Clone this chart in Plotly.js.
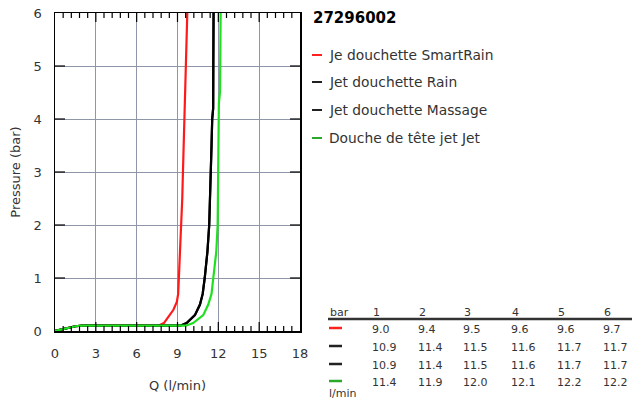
<!DOCTYPE html>
<html>
<head>
<meta charset="utf-8">
<script src="https://cdn.plot.ly/plotly-3.0.1.min.js"></script>
<style>html,body{margin:0;padding:0;background:#fff;}#chart{width:632px;height:403px;}</style>
</head>
<body>
<div id="chart"></div>
<script>
// ---- data ----
const chartTitle = "27296002";
const seriesNames = ["Je douchette SmartRain", "Jet douchette Rain", "Jet douchette Massage", "Douche de tête jet Jet"];
const seriesColors = ["#ff1a1a", "#000000", "#000000", "#1ee01e"];
const swatchColors = ["#ff2020", "#222222", "#222222", "#2aa82a"];

const redQ = [0, 0.5, 1, 1.5, 2, 4, 7.6, 8.0, 8.4, 8.7, 8.95, 9.05, 9.1, 9.2, 9.3, 9.35, 9.4, 9.45, 9.5, 9.55, 9.6, 9.65, 9.72];
const redP = [0, 0.03, 0.06, 0.09, 0.1, 0.1, 0.1, 0.15, 0.28, 0.4, 0.55, 0.7, 1.0, 1.5, 2.0, 2.5, 3.0, 3.5, 4.0, 4.5, 5.0, 5.5, 6.0];

const blackQ = [0, 0.5, 1, 1.5, 2, 4, 9.2, 9.67, 10.28, 10.65, 10.85, 11.0, 11.2, 11.33, 11.4, 11.43, 11.5, 11.55, 11.62, 11.63, 11.64, 11.65];
const blackP = [0, 0.03, 0.06, 0.09, 0.1, 0.1, 0.1, 0.15, 0.3, 0.5, 0.7, 1.0, 1.5, 2.0, 2.5, 3.0, 3.5, 4.0, 4.2, 5.0, 5.5, 6.0];

const greenQ = [0, 0.5, 1, 1.5, 2, 4, 9.6, 10.15, 10.89, 11.26, 11.5, 11.63, 11.85, 11.95, 11.98, 12.0, 12.02, 12.04, 12.12, 12.15, 12.17];
const greenP = [0, 0.03, 0.06, 0.09, 0.1, 0.1, 0.1, 0.15, 0.3, 0.5, 0.7, 1.0, 1.5, 2.0, 2.5, 3.0, 3.5, 4.3, 4.5, 5.0, 6.0];

const tableBars = ["1", "2", "3", "4", "5", "6"];
const tableValues = [
  ["9.0", "9.4", "9.5", "9.6", "9.6", "9.7"],
  ["10.9", "11.4", "11.5", "11.6", "11.7", "11.7"],
  ["10.9", "11.4", "11.5", "11.6", "11.7", "11.7"],
  ["11.4", "11.9", "12.0", "12.1", "12.2", "12.2"]
];
const xTitle = "Q (l/min)";
const yTitle = "Pressure (bar)";

// ---- layout helpers (pixel -> paper) ----
const W = 632, H = 403;
const L = 55, R = 300, T = 13, B = 331;
const px = x => (x - L) / (R - L);
const py = y => (B - y) / (B - T);

const FONT = "DejaVu Sans, Verdana, sans-serif";
const TXT = "#333333";

const xs = [redQ, blackQ, blackQ, greenQ];
const ys = [redP, blackP, blackP, greenP];
const traces = seriesNames.map((n, i) => ({
  x: xs[i], y: ys[i], name: n, type: "scatter", mode: "lines",
  line: {color: seriesColors[i], width: 2.2}, showlegend: false, hoverinfo: "skip"
}));

const annotations = [];
const shapes = [];

// inward tick marks on all four sides
const X_MAX = 18, MINOR = 0.6, MAJOR = 3, Y_MAX = 6, Y_STEP = 1;
const tickLine = {color: "#000", width: 1.2};
for (let k = 1; k * MINOR < X_MAX - 1e-9; k++) {
  const q = +(k * MINOR).toFixed(2);
  const isMajor = Math.abs(q / MAJOR - Math.round(q / MAJOR)) < 1e-6;
  const len = (isMajor ? 9 : 5) / (B - T);
  shapes.push({type: "line", xref: "x", yref: "paper", x0: q, x1: q, y0: 0, y1: len, line: tickLine, layer: "above"});
  shapes.push({type: "line", xref: "x", yref: "paper", x0: q, x1: q, y0: 1, y1: 1 - len, line: tickLine, layer: "above"});
}
for (let p = Y_STEP; p < Y_MAX; p += Y_STEP) {
  const len = 10 / (R - L);
  shapes.push({type: "line", xref: "paper", yref: "y", x0: 0, x1: len, y0: p, y1: p, line: tickLine, layer: "above"});
  shapes.push({type: "line", xref: "paper", yref: "y", x0: 1, x1: 1 - len, y0: p, y1: p, line: tickLine, layer: "above"});
}

// title
annotations.push({xref: "paper", yref: "paper", x: px(311), y: py(18), xanchor: "left", yanchor: "middle",
  text: "<b>" + chartTitle + "</b>", showarrow: false, font: {family: FONT, size: 15, color: "#000"}});

// legend
const legY = [55, 82, 110, 138];
seriesNames.forEach((n, i) => {
  shapes.push({type: "line", xref: "paper", yref: "paper", x0: px(312), x1: px(322), y0: py(legY[i]), y1: py(legY[i]),
    line: {color: swatchColors[i], width: 2}});
  annotations.push({xref: "paper", yref: "paper", x: px(327), y: py(legY[i]), xanchor: "left", yanchor: "middle",
    text: n, showarrow: false, font: {family: FONT, size: 13.8, color: TXT}});
});

// table
const colX = [370, 416, 461, 509, 555, 601];
const headY = 312, rowY = [329, 347, 365, 382];
annotations.push({xref: "paper", yref: "paper", x: px(328), y: py(headY), xanchor: "left", yanchor: "middle",
  text: "bar", showarrow: false, font: {family: FONT, size: 11, color: TXT}});
tableBars.forEach((b, j) => annotations.push({xref: "paper", yref: "paper", x: px(colX[j] + 1), y: py(headY), xanchor: "left", yanchor: "middle",
  text: b, showarrow: false, font: {family: FONT, size: 11, color: TXT}}));
shapes.push({type: "line", xref: "paper", yref: "paper", x0: px(328), x1: px(632), y0: py(319), y1: py(319),
  line: {color: "#333", width: 2.5}});
tableValues.forEach((row, i) => {
  shapes.push({type: "line", xref: "paper", yref: "paper", x0: px(329), x1: px(342), y0: py(rowY[i] - 1), y1: py(rowY[i] - 1),
    line: {color: swatchColors[i], width: 2.5}});
  row.forEach((v, j) => annotations.push({xref: "paper", yref: "paper", x: px(colX[j]), y: py(rowY[i]), xanchor: "left", yanchor: "middle",
    text: v, showarrow: false, font: {family: FONT, size: 11, color: TXT}}));
});
annotations.push({xref: "paper", yref: "paper", x: px(327), y: py(393), xanchor: "left", yanchor: "middle",
  text: "l/min", showarrow: false, font: {family: FONT, size: 11, color: TXT}});

const axisCommon = {
  showline: true, linecolor: "#000", linewidth: 1.5, mirror: true,
  ticks: "",
  showgrid: true, gridcolor: "#8e96a8", gridwidth: 1, zeroline: false,
  tickfont: {family: FONT, size: 13, color: TXT}, fixedrange: true
};

const layout = {
  width: W, height: H,
  margin: {l: L, r: W - R, t: T, b: H - B, pad: 0},
  paper_bgcolor: "#fff", plot_bgcolor: "#fff",
  font: {family: FONT, color: TXT},
  showlegend: false,
  xaxis: Object.assign({}, axisCommon, {
    range: [0, X_MAX], tick0: 0, dtick: MAJOR, ticklabelstandoff: 10,
    title: {text: xTitle, font: {family: FONT, size: 13, color: TXT}, standoff: 21}
  }),
  yaxis: Object.assign({}, axisCommon, {
    range: [0, Y_MAX], tick0: 0, dtick: Y_STEP, ticklabelstandoff: 9,
    title: {text: yTitle, font: {family: FONT, size: 13, color: TXT}, standoff: 10}
  }),
  annotations: annotations,
  shapes: shapes
};

Plotly.newPlot("chart", traces, layout, {displayModeBar: false, staticPlot: true});
</script>
</body>
</html>
